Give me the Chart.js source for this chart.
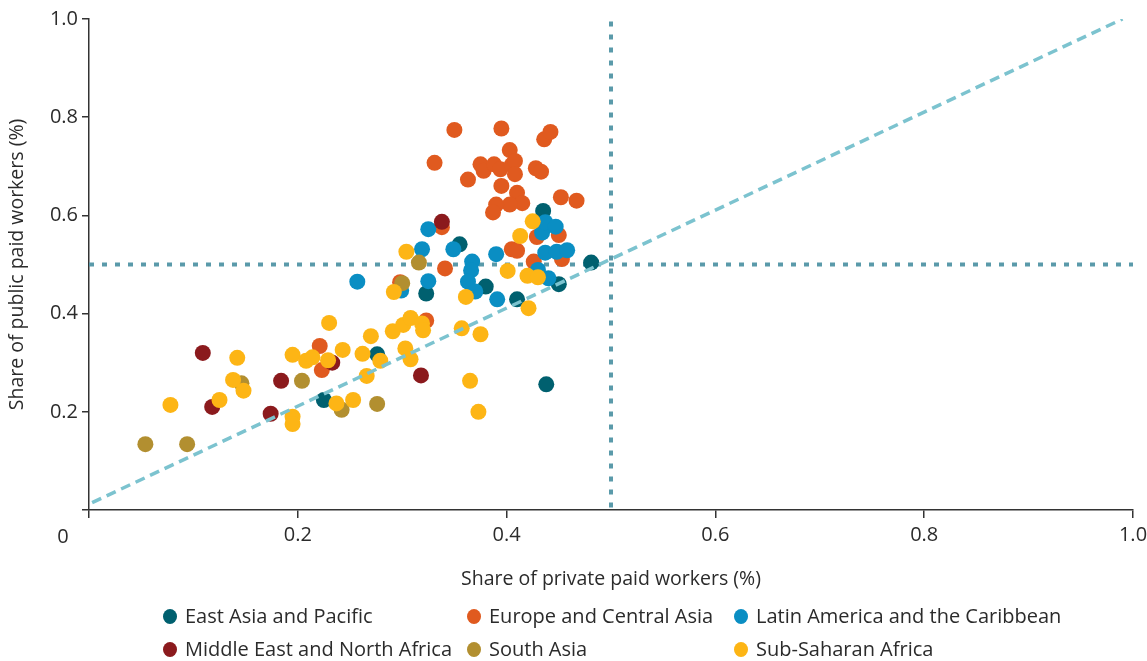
<!DOCTYPE html>
<html lang="en">
<head>
    <meta charset="UTF-8">
    <title>Public vs private paid workers</title>
    <script src="https://cdn.jsdelivr.net/npm/chart.js"></script>
    <style>
        body { margin: 0; background: #fff; }
        #wrap { position: relative; width: 1147px; height: 661px; }
        #legend { position: absolute; left: 0; top: 602px; width: 1147px; font-family: 'Open Sans', sans-serif; font-size: 20px; color: #2b2b2b; }
        .item { position: absolute; white-space: nowrap; }
        .dot { display: inline-block; width: 14px; height: 15px; border-radius: 50%; margin-right: 8px; vertical-align: -1px; }
    </style>
</head>
<body>
<div id="wrap">
    <canvas id="scatterChart" width="1147" height="661"></canvas>
    <div id="legend"></div>
</div>
<script>
// [private share, public share] per country
const eastAsia = [[0.225,0.224],[0.276,0.317],[0.323,0.441],[0.355,0.541],[0.380,0.455],[0.410,0.429],
    [0.435,0.609],[0.450,0.460],[0.481,0.504],[0.438,0.256]];
const europe = [[0.221,0.334],[0.223,0.285],[0.298,0.464],[0.323,0.386],[0.338,0.576],[0.341,0.492],
    [0.331,0.707],[0.350,0.774],[0.363,0.673],[0.375,0.704],[0.378,0.691],[0.388,0.704],[0.394,0.694],
    [0.395,0.777],[0.395,0.660],[0.403,0.733],[0.405,0.703],[0.408,0.711],[0.408,0.684],[0.410,0.646],
    [0.415,0.625],[0.403,0.622],[0.390,0.622],[0.387,0.606],[0.428,0.696],[0.433,0.689],[0.436,0.755],
    [0.442,0.770],[0.452,0.637],[0.467,0.630],[0.450,0.560],[0.429,0.556],[0.405,0.531],[0.410,0.528],
    [0.453,0.511],[0.426,0.506]];
const latinAmerica = [[0.257,0.465],[0.299,0.447],[0.319,0.531],[0.325,0.572],[0.325,0.466],[0.349,0.531],
    [0.367,0.506],[0.366,0.488],[0.363,0.465],[0.370,0.445],[0.391,0.429],[0.390,0.521],[0.430,0.489],
    [0.434,0.565],[0.437,0.586],[0.447,0.577],[0.437,0.524],[0.448,0.526],[0.458,0.529],[0.440,0.472]];
const middleEast = [[0.109,0.320],[0.118,0.210],[0.174,0.196],[0.184,0.263],[0.233,0.300],[0.318,0.274],
    [0.338,0.587]];
const southAsia = [[0.054,0.134],[0.094,0.134],[0.146,0.258],[0.204,0.263],[0.242,0.204],[0.276,0.216],
    [0.300,0.462],[0.316,0.504]];
const subSaharan = [[0.078,0.214],[0.125,0.224],[0.138,0.265],[0.142,0.310],[0.148,0.243],[0.195,0.316],
    [0.195,0.190],[0.195,0.175],[0.208,0.304],[0.214,0.311],[0.229,0.305],[0.230,0.381],[0.237,0.217],
    [0.243,0.326],[0.253,0.224],[0.262,0.318],[0.266,0.273],[0.270,0.354],[0.279,0.304],[0.291,0.364],
    [0.292,0.444],[0.304,0.526],[0.301,0.377],[0.308,0.391],[0.319,0.380],[0.320,0.366],[0.303,0.329],
    [0.308,0.307],[0.357,0.370],[0.361,0.434],[0.365,0.263],[0.375,0.358],[0.373,0.200],[0.401,0.487],
    [0.413,0.558],[0.421,0.411],[0.420,0.477],[0.430,0.474],[0.425,0.588]];

const regionNames = ['East Asia and Pacific', 'Europe and Central Asia', 'Latin America and the Caribbean',
    'Middle East and North Africa', 'South Asia', 'Sub-Saharan Africa'];
const regionData = [eastAsia, europe, latinAmerica, middleEast, southAsia, subSaharan];
const regionColors = ['#00606f', '#e05a1f', '#0a8ec3', '#8b1a1d', '#b28f30', '#fdb515'];
const regionOrder = [6, 5, 4, 3, 2, 1]; // lower number is drawn on top

// reference lines: 45 degree line and the 0.5 thresholds
const diagonalLine = [[0.003,0.015],[0.99,1.0]];
const thresholdH = [[0,0.5],[1,0.5]];
const thresholdV = [[0.5,0.005],[0.5,0.995]];
const tickValues = [0, 0.2, 0.4, 0.6, 0.8, 1.0];

const FONT = 'Open Sans';
const toPts = arr => arr.map(p => ({x: p[0], y: p[1]}));

const datasets = regionNames.map((name, i) => ({
    label: name,
    data: toPts(regionData[i]),
    backgroundColor: regionColors[i],
    borderWidth: 0,
    pointRadius: 8,
    pointHoverRadius: 8,
    order: regionOrder[i]
}));
datasets.push({label: 'diag', data: toPts(diagonalLine), showLine: true, borderColor: '#7cc3cf',
    borderWidth: 3.5, borderDash: [10, 6], pointRadius: 0, order: 0});
datasets.push({label: 'h', data: toPts(thresholdH), showLine: true, borderColor: '#5a9aaa',
    borderWidth: 4, borderDash: [5, 8], pointRadius: 0, order: 10});
datasets.push({label: 'v', data: toPts(thresholdV), showLine: true, borderColor: '#5a9aaa',
    borderWidth: 4, borderDash: [5, 8], pointRadius: 0, order: 10});

// the origin label sits left of the axis in the original
const originLabel = {
    id: 'originLabel',
    afterDraw(chart) {
        const c = chart.ctx, a = chart.chartArea;
        c.save();
        c.font = '20px "' + FONT + '"';
        c.fillStyle = '#2b2b2b';
        c.textAlign = 'center';
        c.textBaseline = 'middle';
        c.fillText('0', a.left - 26, a.bottom + 27);
        c.restore();
    }
};

const fmt = v => (Math.abs(v) < 1e-9 ? '' : v.toFixed(1));

new Chart(document.getElementById('scatterChart'), {
    type: 'scatter',
    data: {datasets: datasets},
    plugins: [originLabel],
    options: {
        responsive: false,
        animation: false,
        layout: {padding: {left: 0, top: 19, right: 14, bottom: 61}},
        plugins: {legend: {display: false}, tooltip: {enabled: false}},
        scales: {
            x: {
                type: 'linear', min: 0, max: 1,
                afterBuildTicks: s => { s.ticks = tickValues.map(v => ({value: v})); },
                afterFit: s => { s.height = 90; s.paddingRight = 0; s.paddingLeft = 0; },
                ticks: {callback: fmt, color: '#2b2b2b', font: {family: FONT, size: 20}, padding: 5, maxRotation: 0},
                grid: {drawOnChartArea: false, tickLength: 8, color: '#333', lineWidth: 1.5},
                border: {color: '#333', width: 1.5},
                title: {display: true, text: 'Share of private paid workers (%)', color: '#2b2b2b',
                    font: {family: FONT, size: 19.5}, padding: {top: 4, bottom: 9}}
            },
            y: {
                type: 'linear', min: 0, max: 1,
                afterBuildTicks: s => { s.ticks = tickValues.map(v => ({value: v})); },
                afterFit: s => { s.width = 89; s.paddingTop = 0; },
                ticks: {callback: fmt, color: '#2b2b2b', font: {family: FONT, size: 20}, padding: 4},
                grid: {drawOnChartArea: false, tickLength: 7, color: '#333', lineWidth: 1.5},
                border: {color: '#333', width: 1.5},
                title: {display: true, text: 'Share of public paid workers (%)', color: '#2b2b2b',
                    font: {family: FONT, size: 19.5}, padding: {top: 6, bottom: 4}}
            }
        }
    }
});

// legend laid out in three columns like the original
const legendPos = [[163, 0], [467, 0], [734, 0], [163, 33], [467, 33], [734, 33]];
const legendEl = document.getElementById('legend');
regionNames.forEach((name, i) => {
    const it = document.createElement('div');
    it.className = 'item';
    it.style.left = legendPos[i][0] + 'px';
    it.style.top = legendPos[i][1] + 'px';
    it.innerHTML = '<span class="dot" style="background:' + regionColors[i] + '"></span>' + name;
    legendEl.appendChild(it);
});
</script>
</body>
</html>
